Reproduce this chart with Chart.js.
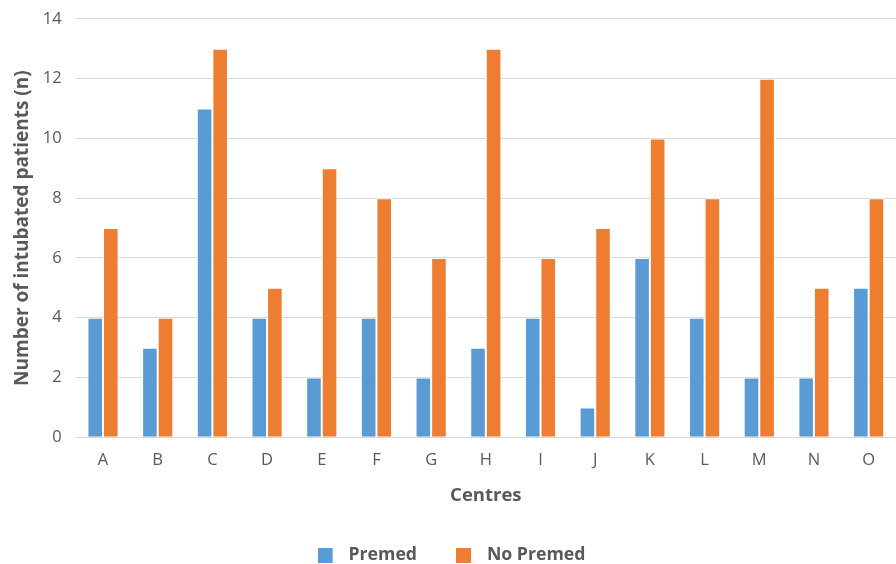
<!DOCTYPE html>
<html><head><meta charset="utf-8">
<script src="https://cdn.jsdelivr.net/npm/chart.js@4"></script>
<style>html,body{margin:0;padding:0;background:#fff;overflow:hidden}#clip{width:896px;height:564px;overflow:hidden}#wrap{width:896px;height:579px;margin-top:-5px}</style>
</head><body><div id="clip"><div id="wrap"><canvas id="c"></canvas></div></div>
<script>
const categories = ["A","B","C","D","E","F","G","H","I","J","K","L","M","N","O"];
const premed = [4,3,11,4,2,4,2,3,4,1,6,4,2,2,5];
const noPremed = [7,4,13,5,9,8,6,13,6,7,10,8,12,5,8];
const yTicks = [0,2,4,6,8,10,12,14];

const BLUE = '#5B9BD5', ORANGE = '#ED7D31';
function marker(color) {
  const c = document.createElement('canvas');
  c.width = 22; c.height = 15;
  const g = c.getContext('2d');
  g.fillStyle = color;
  g.fillRect(0, 0, 15, 15);
  return c;
}

new Chart(document.getElementById('c'), {
  type: 'bar',
  data: {
    labels: categories,
    datasets: [
      {label: 'Premed', data: premed, backgroundColor: BLUE, borderColor: '#ffffff', borderWidth: {left:1,right:1,top:1,bottom:0}, categoryPercentage: 0.57, barPercentage: 1, pointStyle: marker(BLUE)},
      {label: 'No Premed', data: noPremed, backgroundColor: ORANGE, borderColor: '#ffffff', borderWidth: {left:1,right:1,top:1,bottom:0}, categoryPercentage: 0.57, barPercentage: 1, pointStyle: marker(ORANGE)}
    ]
  },
  options: {
    responsive: true, maintainAspectRatio: false, animation: false,
    layout: {padding: {top: 0, right: 0, left: 7, bottom: 0}},
    plugins: {
      legend: {position: 'bottom', labels: {usePointStyle: true, pointStyleWidth: 22, boxWidth: 15, boxHeight: 15, padding: 39, color: '#595959', font: {family: 'Open Sans', size: 17.7, weight: 'bold'}}},
      tooltip: {enabled: false}
    },
    scales: {
      x: {
        grid: {display: false, drawTicks: false},
        border: {color: '#D9D9D9'},
        ticks: {color: '#595959', padding: 13, font: {family: 'Open Sans', size: 16.5}},
        title: {display: true, text: 'Centres', color: '#595959', padding: {top: 2, bottom: 0}, font: {family: 'Open Sans', size: 18.5, weight: 'bold'}}
      },
      y: {
        min: 0, max: 14,
        afterBuildTicks: (ax) => { ax.ticks = yTicks.map(v => ({value: v})); },
        grid: {color: '#D9D9D9', drawTicks: false},
        border: {display: false},
        ticks: {color: '#595959', padding: 14, font: {family: 'Open Sans', size: 16.5}},
        title: {display: true, text: 'Number of intubated patients (n)', color: '#595959', padding: {top: 4, bottom: -5}, font: {family: 'Open Sans', size: 19, weight: 'bold'}}
      }
    }
  }
});
</script></body></html>
